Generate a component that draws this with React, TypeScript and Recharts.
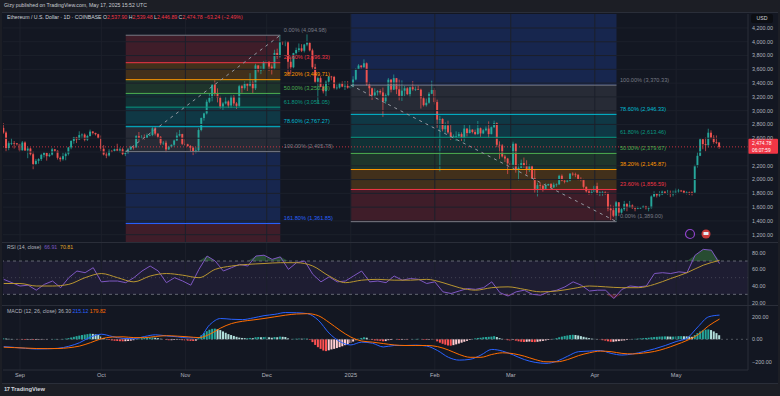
import React from "react"
import { Area, Bar, ComposedChart, Line, ReferenceArea, ReferenceLine, Scatter, XAxis, YAxis } from "recharts"

// ETH/USD daily candles, index 0 = Aug 26 2024 ... index 264 = May 17 2025
const firstOpen = 2750
const closes = [
  2682, 2458, 2528, 2528, 2526, 2513, 2425, 2538, 2423, 2450,
  2368, 2226, 2272, 2297, 2359, 2387, 2340, 2362, 2439, 2418,
  2316, 2295, 2340, 2374, 2466, 2561, 2614, 2581, 2646, 2653,
  2579, 2632, 2696, 2677, 2658, 2603, 2447, 2364, 2350, 2415,
  2414, 2441, 2422, 2440, 2370, 2385, 2437, 2476, 2468, 2630,
  2605, 2611, 2604, 2644, 2648, 2745, 2667, 2621, 2526, 2535,
  2438, 2478, 2505, 2567, 2638, 2660, 2518, 2512, 2487, 2463,
  2398, 2423, 2719, 2894, 2960, 3130, 3185, 3375, 3250, 3187,
  3060, 3105, 3133, 3075, 3210, 3105, 3070, 3355, 3327, 3395,
  3362, 3412, 3325, 3657, 3585, 3592, 3705, 3708, 3640, 3615,
  3838, 3788, 4003, 3995, 4005, 3710, 3630, 3835, 3880, 3905,
  3870, 3960, 3985, 3875, 3630, 3420, 3472, 3345, 3282, 3420,
  3495, 3490, 3330, 3335, 3395, 3350, 3360, 3335, 3355, 3452,
  3605, 3655, 3632, 3688, 3380, 3325, 3222, 3265, 3285, 3265,
  3135, 3225, 3450, 3305, 3472, 3310, 3215, 3290, 3325, 3240,
  3340, 3310, 3315, 3305, 3180, 3080, 3115, 3245, 3300, 3125,
  2870, 2880, 2730, 2785, 2685, 2620, 2630, 2630, 2660, 2600,
  2740, 2675, 2725, 2690, 2660, 2745, 2670, 2715, 2740, 2660,
  2760, 2820, 2505, 2495, 2335, 2305, 2235, 2215, 2520, 2150,
  2170, 2240, 2200, 2140, 2200, 2020, 1865, 1920, 1910, 1865,
  1915, 1935, 1885, 1925, 1930, 2055, 1985, 1970, 1985, 2085,
  2075, 2070, 2010, 2005, 1895, 1830, 1805, 1820, 1905, 1795,
  1815, 1815, 1805, 1580, 1555, 1475, 1670, 1520, 1570, 1645,
  1595, 1625, 1585, 1575, 1585, 1590, 1615, 1585, 1585, 1755,
  1795, 1770, 1785, 1825, 1795, 1800, 1795, 1795, 1840, 1840,
  1835, 1810, 1820, 1815, 1810, 2205, 2345, 2585, 2515, 2500,
  2680, 2610, 2545, 2537.9, 2474.78,
]
const highs = [
  2820, 2700, 2555, 2600, 2560, 2530, 2520, 2560, 2555, 2480,
  2465, 2410, 2300, 2310, 2375, 2400, 2390, 2385, 2460, 2445,
  2425, 2335, 2390, 2400, 2475, 2570, 2620, 2620, 2700, 2670,
  2670, 2650, 2725, 2705, 2680, 2665, 2640, 2500, 2400, 2440,
  2430, 2450, 2520, 2465, 2465, 2420, 2460, 2490, 2485, 2645,
  2690, 2645, 2655, 2670, 2660, 2760, 2770, 2670, 2630, 2560,
  2565, 2490, 2510, 2580, 2685, 2720, 2665, 2585, 2520, 2500,
  2480, 2470, 2745, 2900, 2970, 3160, 3250, 3385, 3440, 3325,
  3215, 3125, 3200, 3150, 3220, 3225, 3125, 3375, 3375, 3425,
  3400, 3545, 3440, 3680, 3660, 3645, 3720, 3735, 3720, 3670,
  3885, 3900, 4095, 4010, 4015, 4010, 3785, 3840, 3915, 3975,
  3965, 3970, 4107, 3990, 3900, 3680, 3495, 3500, 3385, 3440,
  3505, 3505, 3505, 3380, 3405, 3425, 3430, 3430, 3370, 3500,
  3615, 3675, 3660, 3745, 3700, 3410, 3335, 3325, 3300, 3310,
  3335, 3250, 3475, 3460, 3525, 3475, 3450, 3440, 3360, 3340,
  3350, 3430, 3350, 3365, 3320, 3210, 3175, 3270, 3435, 3330,
  3160, 2925, 2890, 2830, 2855, 2790, 2655, 2700, 2690, 2685,
  2795, 2745, 2790, 2730, 2725, 2850, 2755, 2735, 2770, 2845,
  2770, 2855, 2830, 2555, 2515, 2360, 2315, 2275, 2550, 2525,
  2220, 2290, 2320, 2280, 2220, 2205, 2150, 1955, 1955, 1925,
  1945, 1940, 1950, 1955, 1945, 2070, 2075, 2000, 1995, 2095,
  2105, 2100, 2075, 2035, 2010, 1900, 1850, 1860, 1925, 1955,
  1830, 1835, 1830, 1815, 1635, 1620, 1690, 1670, 1585, 1690,
  1660, 1690, 1640, 1610, 1610, 1600, 1625, 1620, 1610, 1770,
  1830, 1805, 1830, 1840, 1830, 1850, 1840, 1840, 1870, 1865,
  1850, 1845, 1830, 1825, 1830, 2215, 2395, 2600, 2590, 2610,
  2738, 2715, 2645, 2640, 2539.48,
]
const lows = [
  2665, 2410, 2425, 2500, 2450, 2495, 2400, 2420, 2415, 2310,
  2350, 2150, 2215, 2230, 2270, 2320, 2275, 2325, 2350, 2400,
  2290, 2260, 2275, 2280, 2350, 2440, 2520, 2530, 2575, 2590,
  2555, 2560, 2625, 2655, 2640, 2590, 2410, 2350, 2310, 2335,
  2395, 2405, 2410, 2390, 2355, 2340, 2375, 2430, 2435, 2460,
  2555, 2590, 2580, 2600, 2630, 2630, 2640, 2590, 2500, 2500,
  2395, 2430, 2465, 2480, 2560, 2625, 2500, 2490, 2475, 2410,
  2355, 2380, 2405, 2700, 2855, 2945, 3110, 3135, 3210, 3120,
  3030, 3010, 3090, 3040, 3040, 3070, 3025, 3055, 3260, 3305,
  3285, 3350, 3255, 3300, 3555, 3530, 3585, 3660, 3575, 3525,
  3590, 3750, 3770, 3955, 3935, 3515, 3530, 3615, 3815, 3850,
  3850, 3845, 3935, 3860, 3600, 3400, 3100, 3340, 3250, 3210,
  3375, 3440, 3310, 3305, 3320, 3340, 3300, 3320, 3320, 3340,
  3440, 3600, 3610, 3620, 3360, 3205, 3155, 3190, 3220, 3235,
  2910, 3100, 3205, 3265, 3300, 3240, 3150, 3140, 3210, 3225,
  3195, 3290, 3285, 3300, 3030, 3060, 3060, 3100, 3240, 3090,
  2750, 2120, 2700, 2680, 2665, 2575, 2590, 2560, 2600, 2560,
  2550, 2625, 2670, 2670, 2645, 2650, 2620, 2660, 2700, 2600,
  2655, 2750, 2470, 2300, 2320, 2255, 2080, 2175, 2170, 2100,
  1990, 2165, 2170, 2075, 2110, 2000, 1810, 1755, 1850, 1825,
  1860, 1910, 1875, 1880, 1895, 1925, 1975, 1945, 1960, 1975,
  2055, 2035, 1990, 1975, 1870, 1810, 1780, 1785, 1810, 1780,
  1760, 1765, 1780, 1540, 1410, 1455, 1385, 1470, 1505, 1545,
  1540, 1590, 1575, 1540, 1570, 1575, 1585, 1565, 1540, 1580,
  1745, 1740, 1750, 1775, 1790, 1780, 1745, 1755, 1780, 1810,
  1820, 1795, 1785, 1775, 1770, 1805, 2175, 2340, 2440, 2410,
  2465, 2585, 2520, 2515, 2446.89,
]

// RSI (14) read every 3 days, its moving average every 6 days
const rsiStep = 3
const rsiValues = [
  48, 44, 40, 41, 35, 42, 46, 38, 50, 58,
  56, 62, 45, 46, 46, 44, 50, 58, 64, 58,
  44, 50, 46, 41, 60, 76, 70, 58, 62, 66,
  64, 76, 77, 72, 75, 60, 68, 70, 54, 45,
  51, 45, 46, 52, 58, 45, 46, 44, 52, 47,
  49, 48, 43, 45, 33, 31, 34, 37, 36, 38,
  45, 32, 28, 33, 35, 30, 29, 33, 35, 39,
  45, 41, 34, 35, 35, 25, 36, 40, 39, 40,
  55, 56, 55, 57, 56, 77, 84, 83, 66.91,
]
const rsiMaStep = 6
const rsiMaValues = [
  43, 43, 40, 40, 42, 50, 55, 50, 45, 52,
  55, 53, 50, 60, 64, 66, 67, 68, 68, 64,
  52, 44, 47, 48, 47, 47, 48, 44, 38, 35,
  38, 39, 36, 33, 34, 37, 40, 39, 38, 38,
  42, 49, 56, 65, 70.81,
]

// MACD (12, 26, close): lines read every 4 days, histogram daily
const macdStep = 4
const macdValues = [
  -65, -72, -80, -86, -84, -80, -62, -30, 20, 45,
  25, 8, 5, 25, 40, 30, 22, 12, 15, 130,
  185, 178, 175, 190, 210, 222, 238, 236, 228, 170,
  55, -20, -50, -25, -35, -68, -55, -55, -52, -60,
  -100, -160, -185, -178, -140, -90, -105, -140, -180, -205,
  -214, -195, -150, -110, -105, -100, -125, -140, -130, -110,
  -85, -55, -20, 10, 110, 200, 215.12,
]
const signalValues = [
  -70, -74, -78, -82, -83, -82, -75, -60, -30, 5,
  20, 22, 15, 15, 25, 32, 28, 22, 15, 45,
  100, 140, 160, 172, 185, 200, 215, 225, 228, 210,
  150, 80, 20, -15, -25, -38, -50, -55, -55, -55,
  -65, -95, -135, -160, -160, -135, -120, -128, -150, -180,
  -200, -200, -180, -145, -120, -105, -110, -125, -130, -122,
  -108, -82, -48, -10, 40, 120, 179.82,
]
const histValues = [
  8, 6, 4, 3, 1, -1, -3, -4, -5, -4,
  -4, -6, -5, -4, -3, -2, -2, 0, 2, 3,
  2, 1, 3, 6, 10, 16, 22, 28, 33, 38,
  42, 46, 50, 48, 44, 38, 25, 12, 2, -6,
  -10, -13, -15, -17, -18, -17, -15, -12, -8, 2,
  6, 10, 13, 15, 16, 17, 14, 10, 5, 0,
  -5, -8, -8, -6, -4, -4, -8, -10, -12, -14,
  -15, -12, 10, 35, 55, 72, 85, 93, 95, 90,
  82, 70, 58, 46, 38, 30, 22, 15, 12, 10,
  10, 12, 10, 18, 20, 18, 20, 22, 18, 14,
  20, 18, 24, 22, 20, 8, 0, 4, 5, 6,
  5, 6, 6, -5, -25, -50, -70, -85, -100, -105,
  -98, -90, -85, -78, -70, -62, -52, -42, -32, -20,
  -8, 5, 12, 18, 14, 2, -6, -10, -12, -14,
  -18, -16, -8, -6, 0, -2, -6, -5, -3, -4,
  0, 2, 3, 4, 0, -5, -6, -4, 0, -4,
  -18, -30, -40, -48, -55, -57, -52, -45, -38, -30,
  -22, -14, -6, 2, 8, 12, 14, 18, 20, 22,
  24, 28, 20, 10, 4, -2, -8, -12, -4, -12,
  -18, -22, -24, -22, -20, -24, -25, -22, -18, -14,
  -10, -6, -2, 4, 10, 18, 24, 30, 34, 38,
  40, 38, 34, 28, 22, 16, 10, 6, 4, 2,
  -2, -8, -12, -18, -22, -22, -18, -16, -12, -10,
  -6, -2, 2, 4, 6, 8, 10, 12, 14, 18,
  20, 22, 24, 25, 26, 25, 24, 24, 26, 28,
  28, 27, 26, 24, 22, 38, 55, 70, 80, 86,
  88, 82, 70, 55, 36.3,
]

const priceGrid = [1200, 1400, 1600, 1800, 2000, 2200, 2400, 2600, 2800, 3000, 3200, 3400, 3600, 3800, 4000, 4200]
// the 2,400.00 label sits under the last-price tag in the reference
const priceTicks = [1200, 1400, 1600, 1800, 2000, 2200, 2600, 2800, 3000, 3200, 3400, 3600, 3800, 4000, 4200]
const rsiTicks = [20, 40, 60, 80]
const macdTicks = [-200, 0, 200]
const monthTicks = [6, 36, 67, 97, 128, 159, 187, 218, 248]
const monthLabels = ["Sep", "Oct", "Nov", "Dec", "2025", "Feb", "Mar", "Apr", "May"]

// Fibonacci retracements drawn on the chart (anchor candle index + price)
const fibRatios = [0, 0.236, 0.382, 0.5, 0.618, 0.786, 1, 1.618, 2.618]
const fibColors = ["#787b86", "#f23645", "#ff9800", "#4caf50", "#089981", "#00bcd4", "#787b86", "#2962ff", "#f23645"]
const fibUp = { from: 45, to: 102, p100: 2405.78, p0: 4094.98 }
const fibDown = { from: 128, to: 226, p100: 3370.33, p0: 1389.0 }
const lastPrice = 2474.78

const FONT = "'Liberation Sans', Arial, sans-serif"
const BG = "#131722"
const LINE = "#2a2e39"
const GRID = "#1c202b"
const UP = "#26a69a"
const DOWN = "#ef5350"
const TXT = "#b2b5be"
const X_DOMAIN: [number, number] = [-0.27, 274.5]
const PRICE_DOMAIN: [number, number] = [1094, 4403]
const RSI_DOMAIN: [number, number] = [17.2, 92.85]
const MACD_DOMAIN: [number, number] = [-272.9, 304.9]

const candles = closes.map((c, i) => {
  const o = i === 0 ? firstOpen : closes[i - 1]
  const h = Math.max(highs[i], o, c)
  const l = Math.min(lows[i], o, c)
  return { i, o, h, l, c, range: [l, h] }
})
const rsiData = rsiValues.map((v, k) => ({ i: k * rsiStep, v, ob: [70, Math.max(70, v)], os: [Math.min(30, v), 30] }))
const rsiMaData = rsiMaValues.map((v, k) => ({ i: k * rsiMaStep, v }))
const macdData = macdValues.map((v, k) => ({ i: k * macdStep, v }))
const signalData = signalValues.map((v, k) => ({ i: k * macdStep, v }))
const histData = histValues.map((v, i) => ({ i, v, rising: i === 0 ? true : v >= histValues[i - 1] }))

const money = (v: number) => v.toLocaleString("en-US", { minimumFractionDigits: 2, maximumFractionDigits: 2 })

type Fib = { from: number; to: number; p100: number; p0: number }
const fibLevels = (f: Fib) => fibRatios.map((r, k) => ({ r, p: f.p0 + r * (f.p100 - f.p0), color: fibColors[k] }))
const fibLabels = [fibUp, fibDown].flatMap((f) =>
  fibLevels(f)
    .filter((L) => L.p > PRICE_DOMAIN[0] && L.p < PRICE_DOMAIN[1])
    .map((L) => ({ i: f.to, p: L.p, color: L.color, text: `${(L.r * 100).toFixed(2)}% (${money(L.p)})` }))
)

const Candle = (props: any) => {
  const { x, y, width, height, payload } = props
  if (x == null || !payload) return null
  const { o, h, l, c } = payload
  const top = Math.min(y, y + height)
  const span = Math.abs(height)
  const k = h === l ? 0 : span / (h - l)
  const yo = top + (h - o) * k
  const yc = top + (h - c) * k
  const col = c >= o ? UP : DOWN
  const cx = x + width / 2
  return (
    <g>
      <line x1={cx} x2={cx} y1={top} y2={top + span} stroke={col} strokeWidth={0.7} />
      <rect x={x} y={Math.min(yo, yc)} width={width} height={Math.max(0.7, Math.abs(yc - yo))} fill={col} />
    </g>
  )
}

const HistBar = (props: any) => {
  const { x, y, width, height, payload } = props
  if (x == null || !payload) return null
  const v = payload.v
  const col = v >= 0 ? (payload.rising ? "#26a69a" : "#b2dfdb") : payload.rising ? "#ffcdd2" : "#ff5252"
  return <rect x={x} y={Math.min(y, y + height)} width={width} height={Math.abs(height)} fill={col} />
}

const FibText = (props: any) => {
  const { cx, cy, payload } = props
  if (cx == null) return null
  return (
    <text x={cx + 3.5} y={cy - 3.6} fill={payload.color} fontSize={5.6} fontFamily={FONT}>
      {payload.text}
    </text>
  )
}

const PriceTag = (props: any) => {
  const vb = props.viewBox
  if (!vb) return null
  const x = vb.x + vb.width
  return (
    <g>
      <rect x={x} y={vb.y - 8} width={30} height={15} fill="#f23645" rx={1} />
      <text x={x + 4} y={vb.y - 2.2} fill="#fff" fontSize={5} fontFamily={FONT}>{money(lastPrice)}</text>
      <text x={x + 4} y={vb.y + 5.2} fill="#fff" fontSize={4.8} fontFamily={FONT}>06:07:59</text>
    </g>
  )
}

const tickStyle = { fontSize: 5.4, fill: TXT, fontFamily: FONT }

const renderFib = (f: Fib, key: string) => {
  const lv = fibLevels(f)
  return (
    <React.Fragment key={key}>
      {lv.slice(1).map((L, k) => (
        <ReferenceArea key={`${key}a${k}`} x1={f.from} x2={f.to} y1={lv[k].p} y2={L.p} fill={L.color} fillOpacity={0.2} stroke="none" ifOverflow="hidden" />
      ))}
      {lv.map((L, k) => (
        <ReferenceLine key={`${key}l${k}`} segment={[{ x: f.from, y: L.p }, { x: f.to, y: L.p }]} stroke={L.color} strokeWidth={1} ifOverflow="discard" />
      ))}
      <ReferenceLine segment={[{ x: f.from, y: f.p100 }, { x: f.to, y: f.p0 }]} stroke="#9598a1" strokeDasharray="3 4" strokeWidth={1} />
    </React.Fragment>
  )
}

function PricePane() {
  return (
    <ComposedChart width={780} height={230} data={candles} margin={{ top: 2, right: 0, bottom: 0, left: 3 }}>
      <XAxis dataKey="i" type="number" domain={X_DOMAIN} allowDataOverflow hide />
      <YAxis
        orientation="right"
        width={32}
        domain={PRICE_DOMAIN}
        allowDataOverflow
        ticks={priceTicks}
        tickFormatter={money}
        tick={tickStyle}
        tickLine={false}
        tickSize={2}
        tickMargin={2}
        axisLine={{ stroke: LINE }}
        interval={0}
      />
      {priceGrid.map((t) => (
        <ReferenceLine key={`g${t}`} y={t} stroke={GRID} strokeWidth={1} />
      ))}
      {monthTicks.map((t) => (
        <ReferenceLine key={`v${t}`} x={t} stroke={GRID} strokeWidth={1} />
      ))}
      {renderFib(fibUp, "up")}
      {renderFib(fibDown, "down")}
      <Scatter data={fibLabels} dataKey="p" shape={FibText} isAnimationActive={false} />
      <ReferenceLine y={lastPrice} stroke="#f23645" strokeDasharray="1 2" strokeWidth={0.8} label={PriceTag} />
      <Bar dataKey="range" shape={Candle} barSize={1.9} isAnimationActive={false} />
    </ComposedChart>
  )
}

function RsiPane() {
  return (
    <ComposedChart width={780} height={63} data={rsiData} margin={{ top: 0, right: 0, bottom: 0, left: 3 }}>
      <XAxis dataKey="i" type="number" domain={X_DOMAIN} allowDataOverflow hide />
      <YAxis
        orientation="right"
        width={32}
        domain={RSI_DOMAIN}
        allowDataOverflow
        ticks={rsiTicks}
        tickFormatter={(v: number) => v.toFixed(2)}
        tick={tickStyle}
        tickLine={false}
        tickSize={2}
        tickMargin={2}
        axisLine={{ stroke: LINE }}
        interval={0}
      />
      {monthTicks.map((t) => (
        <ReferenceLine key={`v${t}`} x={t} stroke={GRID} strokeWidth={1} />
      ))}
      <ReferenceArea y1={30} y2={70} fill="#7e57c2" fillOpacity={0.1} stroke="none" />
      <ReferenceLine y={70} stroke="#787b86" strokeDasharray="3 3" strokeOpacity={0.8} />
      <ReferenceLine y={50} stroke="#787b86" strokeDasharray="1 3" strokeOpacity={0.4} />
      <ReferenceLine y={30} stroke="#787b86" strokeDasharray="3 3" strokeOpacity={0.8} />
      <Area dataKey="ob" type="linear" stroke="none" fill="#4caf50" fillOpacity={0.35} isAnimationActive={false} />
      <Area dataKey="os" type="linear" stroke="none" fill="#f23645" fillOpacity={0.3} isAnimationActive={false} />
      <Line dataKey="v" type="linear" stroke="#7e57c2" strokeWidth={1} dot={false} isAnimationActive={false} />
      <Line data={rsiMaData} dataKey="v" type="monotone" stroke="#b89530" strokeWidth={1} dot={false} isAnimationActive={false} />
    </ComposedChart>
  )
}

function MacdPane() {
  return (
    <ComposedChart width={780} height={78} data={histData} margin={{ top: 0, right: 0, bottom: 0, left: 3 }}>
      <XAxis
        dataKey="i"
        type="number"
        domain={X_DOMAIN}
        allowDataOverflow
        ticks={monthTicks}
        interval={0}
        tickFormatter={(v: number) => monthLabels[monthTicks.indexOf(v)]}
        tick={{ ...tickStyle, fontSize: 5.6 }}
        tickLine={false}
        tickSize={0}
        tickMargin={3}
        height={13}
        axisLine={{ stroke: LINE }}
      />
      <YAxis
        orientation="right"
        width={32}
        domain={MACD_DOMAIN}
        allowDataOverflow
        ticks={macdTicks}
        tickFormatter={(v: number) => (v < 0 ? "\u2212" + money(-v) : money(v))}
        tick={tickStyle}
        tickLine={false}
        tickSize={2}
        tickMargin={2}
        axisLine={{ stroke: LINE }}
        interval={0}
      />
      {monthTicks.map((t) => (
        <ReferenceLine key={`v${t}`} x={t} stroke={GRID} strokeWidth={1} />
      ))}
      <ReferenceLine y={0} stroke="#787b86" strokeDasharray="2 3" strokeOpacity={0.6} />
      <Bar dataKey="v" shape={HistBar} barSize={2} isAnimationActive={false} />
      <Line data={macdData} dataKey="v" type="monotone" stroke="#2962ff" strokeWidth={1} dot={false} isAnimationActive={false} />
      <Line data={signalData} dataKey="v" type="monotone" stroke="#ff6d00" strokeWidth={1} dot={false} isAnimationActive={false} />
    </ComposedChart>
  )
}

const abs = (left: number, top: number): React.CSSProperties => ({ position: "absolute", left, top })

export default function App() {
  const small: React.CSSProperties = { fontSize: 5.2, color: TXT, whiteSpace: "nowrap", lineHeight: "7px" }
  const red = { color: "#f23645" }
  return (
    <div style={{ position: "relative", width: 780, height: 396, background: "#1c1e25", fontFamily: FONT, overflow: "hidden" }}>
      <style>{"body{margin:0;background:#1c1e25}"}</style>
      <div style={{ ...abs(4, 2), ...small, color: "#c9ccd3" }}>Gizy published on TradingView.com, May 17, 2025 15:52 UTC</div>
      <div style={{ ...abs(2, 12), width: 776, height: 371, background: BG, borderTop: `1px solid ${LINE}`, boxSizing: "border-box" }} />

      <div style={abs(0, 12)}><PricePane /></div>
      <div style={abs(0, 242)}><RsiPane /></div>
      <div style={abs(0, 305)}><MacdPane /></div>

      <div style={{ ...abs(2, 242), width: 776, height: 1, background: LINE }} />
      <div style={{ ...abs(2, 305), width: 776, height: 1, background: LINE }} />
      <div style={{ ...abs(2, 383), width: 776, height: 1, background: LINE }} />

      <div style={{ ...abs(7, 14), ...small, color: "#d1d4dc" }}>
        Ethereum / U.S. Dollar · 1D · COINBASE O<span style={red}>2,537.90</span> H<span style={red}>2,539.48</span> L<span style={red}>2,446.89</span> C<span style={red}>2,474.78</span> <span style={red}>−63.24 (−2.49%)</span>
      </div>
      <div style={{ ...abs(751, 14), width: 22, height: 9, background: "#0c0e13", borderRadius: 2, color: "#d1d4dc", fontSize: 5.2, lineHeight: "9px", textAlign: "center" }}>USD</div>

      <div style={{ ...abs(7, 244), ...small }}>
        RSI (14, close)&nbsp;&nbsp;<span style={{ color: "#7e57c2" }}>66.91</span>&nbsp;&nbsp;<span style={{ color: "#e0a526" }}>70.81</span>
      </div>
      <div style={{ ...abs(7, 308), ...small }}>
        MACD (12, 26, close) <span style={{ color: "#b2b5be" }}>36.30</span> <span style={{ color: "#2962ff" }}>215.12</span> <span style={{ color: "#ff6d00" }}>179.82</span>
      </div>

      <svg style={abs(684, 228)} width={30} height={12}>
        <circle cx={6} cy={6} r={4.5} fill="none" stroke="#8e44c9" strokeWidth={1.2} />
        <circle cx={22} cy={6} r={4.5} fill="#c73a3a" />
        <rect x={19.5} y={4} width={5} height={3} fill="#e8ecf5" />
      </svg>

      <div style={{ ...abs(4, 386), fontSize: 5.8, color: "#d1d4dc", whiteSpace: "nowrap", fontWeight: 700 }}>
        <span style={{ letterSpacing: -0.5 }}>17</span>&nbsp;TradingView
      </div>
    </div>
  )
}
